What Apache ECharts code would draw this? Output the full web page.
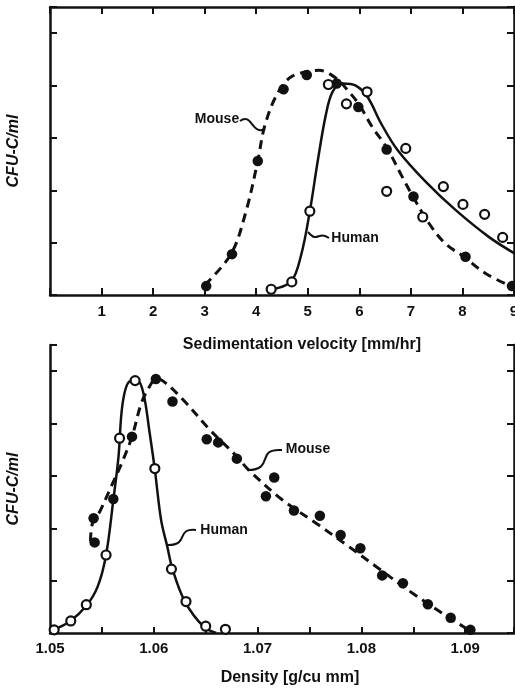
<!DOCTYPE html>
<html>
<head>
<meta charset="utf-8">
<script src="https://cdn.jsdelivr.net/npm/echarts@6/dist/echarts.min.js"></script>
<style>
  html, body { margin: 0; padding: 0; background: #fff; }
  #chart { width: 515px; height: 690px; }
</style>
</head>
<body>
<div id="chart"></div>
<script>
    // sedimentation velocity panel (top)
    var sedMouseX = [3.03, 3.53, 4.03, 4.53, 4.98, 5.56, 5.98, 6.53, 7.05, 8.06, 8.96];
    var sedMouseY = [0.17, 0.78, 2.56, 3.93, 4.20, 4.04, 3.59, 2.78, 1.88, 0.73, 0.17];
    var sedHumanX = [4.29, 4.69, 5.04, 5.40, 5.75, 6.15, 6.53, 6.90, 7.23, 7.63, 8.01, 8.43, 8.78];
    var sedHumanY = [0.11, 0.25, 1.60, 4.02, 3.65, 3.88, 1.98, 2.80, 1.49, 2.07, 1.73, 1.54, 1.10];
    var sedMouseCurveX = [3.00, 3.51, 3.80, 4.03, 4.16, 4.38, 4.64, 4.95, 5.22, 5.55, 5.80, 6.00, 6.25, 6.54, 6.83, 7.04, 7.35, 7.67, 8.03, 8.45, 8.96];
    var sedMouseCurveY = [0.19, 0.78, 1.59, 2.56, 3.21, 3.79, 4.14, 4.26, 4.29, 4.14, 3.88, 3.63, 3.21, 2.80, 2.26, 1.88, 1.37, 0.98, 0.73, 0.41, 0.16];
    var sedHumanCurveX = [4.26, 4.67, 4.87, 5.04, 5.19, 5.35, 5.48, 5.67, 5.93, 6.16, 6.42, 6.74, 7.29, 7.87, 8.51, 9.00];
    var sedHumanCurveY = [0.10, 0.25, 0.76, 1.60, 2.54, 3.44, 3.88, 4.04, 4.00, 3.78, 3.28, 2.77, 2.16, 1.62, 1.11, 0.80];

    // density panel (bottom)
    var denHumanX = [1.0504, 1.0520, 1.0535, 1.0554, 1.0567, 1.0582, 1.0601, 1.0617, 1.0631, 1.0650, 1.0669];
    var denHumanY = [0.06, 0.23, 0.54, 1.49, 3.72, 4.82, 3.14, 1.22, 0.60, 0.13, 0.07];
    var denMouseX = [1.0543, 1.0542, 1.0561, 1.0579, 1.0602, 1.0618, 1.0651, 1.0662, 1.0680, 1.0716, 1.0708, 1.0735, 1.0760, 1.0780, 1.0799, 1.0820, 1.0840, 1.0864, 1.0886, 1.0905];
    var denMouseY = [1.73, 2.19, 2.56, 3.75, 4.85, 4.42, 3.70, 3.64, 3.33, 2.97, 2.61, 2.34, 2.24, 1.87, 1.62, 1.10, 0.95, 0.55, 0.29, 0.06];
    var denHumanCurveX = [1.0503, 1.0519, 1.0535, 1.0546, 1.0554, 1.0561, 1.0566, 1.0570, 1.0577, 1.0584, 1.0590, 1.0596, 1.0601, 1.0607, 1.0613, 1.0618, 1.0630, 1.0648, 1.0660];
    var denHumanCurveY = [0.06, 0.22, 0.52, 0.89, 1.49, 2.54, 3.37, 4.39, 4.81, 4.82, 4.58, 3.82, 3.12, 2.16, 1.65, 1.22, 0.60, 0.12, 0.00];
    var denMouseCurveX = [1.0539, 1.0541, 1.0548, 1.0559, 1.0569, 1.0579, 1.0588, 1.0596, 1.0602, 1.0609, 1.0628, 1.0654, 1.0680, 1.0691, 1.0724, 1.0756, 1.0788, 1.0814, 1.0850, 1.0880, 1.0904];
    var denMouseCurveY = [1.75, 2.10, 2.32, 2.80, 3.24, 3.75, 4.39, 4.71, 4.85, 4.81, 4.46, 3.88, 3.37, 3.12, 2.54, 2.10, 1.65, 1.27, 0.75, 0.35, 0.05];

    var sedTicks = ['1', '2', '3', '4', '5', '6', '7', '8', '9'];
    var denTicks = ['1.05', '1.06', '1.07', '1.08', '1.09'];

    function pairs(xs, ys) {
        return xs.map(function (x, i) { return [x, ys[i]]; });
    }

    function $ext(a) {
        for (var i = 1; i < arguments.length; i++) {
            for (var k in arguments[i]) a[k] = arguments[i][k];
        }
        return a;
    }

    var FONT = 'Liberation Sans';
    var INK = '#111';

    var frameAxis = {
        axisLine: { show: true, onZero: false, lineStyle: { color: INK, width: 2.5 } },
        axisTick: { show: true, inside: true, length: 7, lineStyle: { color: INK, width: 2 } },
        splitLine: { show: false }
    };

    function yAxisPair(gridIndex) {
        return [
            $ext({}, frameAxis, {
                type: 'value', gridIndex: gridIndex, position: 'left', min: 0, max: 5.5, interval: 1,
                axisLabel: { show: false },
                name: 'CFU-C/ml', nameLocation: 'middle', nameGap: 28, nameRotate: 90,
                nameTextStyle: { fontFamily: FONT, fontWeight: 'bold', fontStyle: 'italic', fontSize: 16, color: INK }
            }),
            $ext({}, frameAxis, {
                type: 'value', gridIndex: gridIndex, position: 'right', min: 0, max: 5.5, interval: 1,
                axisLabel: { show: false }
            })
        ];
    }

    var lineBase = { type: 'line', showSymbol: false, symbol: 'none', smooth: 0.35, z: 2 };
    var filledDot = { type: 'scatter', symbol: 'circle', symbolSize: 10.5, itemStyle: { color: INK, opacity: 1 }, z: 4 };
    var openDot = { type: 'scatter', symbol: 'circle', symbolSize: 9, itemStyle: { color: '#fff', borderColor: INK, borderWidth: 2.2, opacity: 1 }, z: 5 };

    function squiggle(x1, y1, x2, y2, c1x, c1y, c2x, c2y) {
        return {
            type: 'bezierCurve', silent: true,
            shape: { x1: x1, y1: y1, x2: x2, y2: y2, cpx1: c1x, cpy1: c1y, cpx2: c2x, cpy2: c2y },
            style: { stroke: INK, lineWidth: 2, fill: null }
        };
    }

    function note(txt, x, y) {
        return {
            type: 'text', x: x, y: y, silent: true,
            style: { text: txt, fill: INK, font: 'bold 14px "' + FONT + '"', align: 'center', verticalAlign: 'middle' }
        };
    }

    var chart = echarts.init(document.getElementById('chart'), null, { renderer: 'canvas' });

    chart.setOption({
        backgroundColor: '#fff',
        animation: false,
        grid: [
            { left: 50, top: 7, width: 464, height: 288, outerBoundsMode: 'none', containLabel: false },
            { left: 50, top: 345, width: 464, height: 288, outerBoundsMode: 'none', containLabel: false }
        ],
        xAxis: [
            $ext({}, frameAxis, {
                type: 'value', gridIndex: 0, position: 'bottom', min: 0, max: 9, interval: 1,
                axisLabel: {
                    fontFamily: FONT, fontWeight: 'bold', fontSize: 15, color: INK, margin: 9,
                    formatter: function (v) { return v >= 1 ? sedTicks[Math.round(v) - 1] : ''; }
                },
                name: 'Sedimentation velocity [mm/hr]', nameLocation: 'middle', nameGap: 42,
                nameTextStyle: { fontFamily: FONT, fontWeight: 'bold', fontSize: 16, color: INK, padding: [0, 0, 0, 40] }
            }),
            $ext({}, frameAxis, {
                type: 'value', gridIndex: 0, position: 'top', min: 0, max: 9, interval: 1,
                axisLabel: { show: false }
            }),
            $ext({}, frameAxis, {
                type: 'value', gridIndex: 1, position: 'bottom', min: 1.05, max: 1.0947, interval: 0.005,
                axisTick: { show: true, inside: true, length: 6, lineStyle: { color: INK, width: 2 } },
                axisLabel: {
                    fontFamily: FONT, fontWeight: 'bold', fontSize: 15, color: INK, margin: 8,
                    formatter: function (v) {
                        var k = Math.round((v - 1.05) * 100);
                        if (Math.abs((v - 1.05) * 100 - k) > 1e-4 || k < 0 || k >= denTicks.length) return '';
                        return denTicks[k];
                    }
                },
                name: 'Density [g/cu mm]', nameLocation: 'middle', nameGap: 37,
                nameTextStyle: { fontFamily: FONT, fontWeight: 'bold', fontSize: 16, color: INK, padding: [0, 0, 0, 16] }
            })
        ],
        yAxis: yAxisPair(0).concat(yAxisPair(1)),
        series: [
            $ext({}, lineBase, { name: 'Mouse', xAxisIndex: 0, yAxisIndex: 0, data: pairs(sedMouseCurveX, sedMouseCurveY),
                lineStyle: { color: INK, width: 3, type: [9, 6] } }),
            $ext({}, lineBase, { name: 'Human', xAxisIndex: 0, yAxisIndex: 0, data: pairs(sedHumanCurveX, sedHumanCurveY),
                lineStyle: { color: INK, width: 2.5 } }),
            $ext({}, filledDot, { xAxisIndex: 0, yAxisIndex: 0, data: pairs(sedMouseX, sedMouseY) }),
            $ext({}, openDot, { xAxisIndex: 0, yAxisIndex: 0, data: pairs(sedHumanX, sedHumanY) }),

            $ext({}, lineBase, { name: 'Mouse', xAxisIndex: 2, yAxisIndex: 2, data: pairs(denMouseCurveX, denMouseCurveY),
                lineStyle: { color: INK, width: 3, type: [9, 6] } }),
            $ext({}, lineBase, { name: 'Human', xAxisIndex: 2, yAxisIndex: 2, data: pairs(denHumanCurveX, denHumanCurveY),
                lineStyle: { color: INK, width: 2.5 } }),
            $ext({}, filledDot, { xAxisIndex: 2, yAxisIndex: 2, data: pairs(denMouseX, denMouseY) }),
            $ext({}, openDot, { xAxisIndex: 2, yAxisIndex: 2, data: pairs(denHumanX, denHumanY) })
        ],
        graphic: [
            note('Mouse', 217, 119),
            squiggle(240, 121, 265, 129, 252, 112, 252, 136),
            note('Human', 355, 238),
            squiggle(329, 238, 308, 232, 318, 230, 318, 244),
            note('Mouse', 308, 449),
            squiggle(282, 450, 248, 470, 255, 448, 275, 470),
            note('Human', 224, 530),
            squiggle(196, 530, 168, 545, 175, 528, 190, 545)
        ]
    });
</script>
</body>
</html>
